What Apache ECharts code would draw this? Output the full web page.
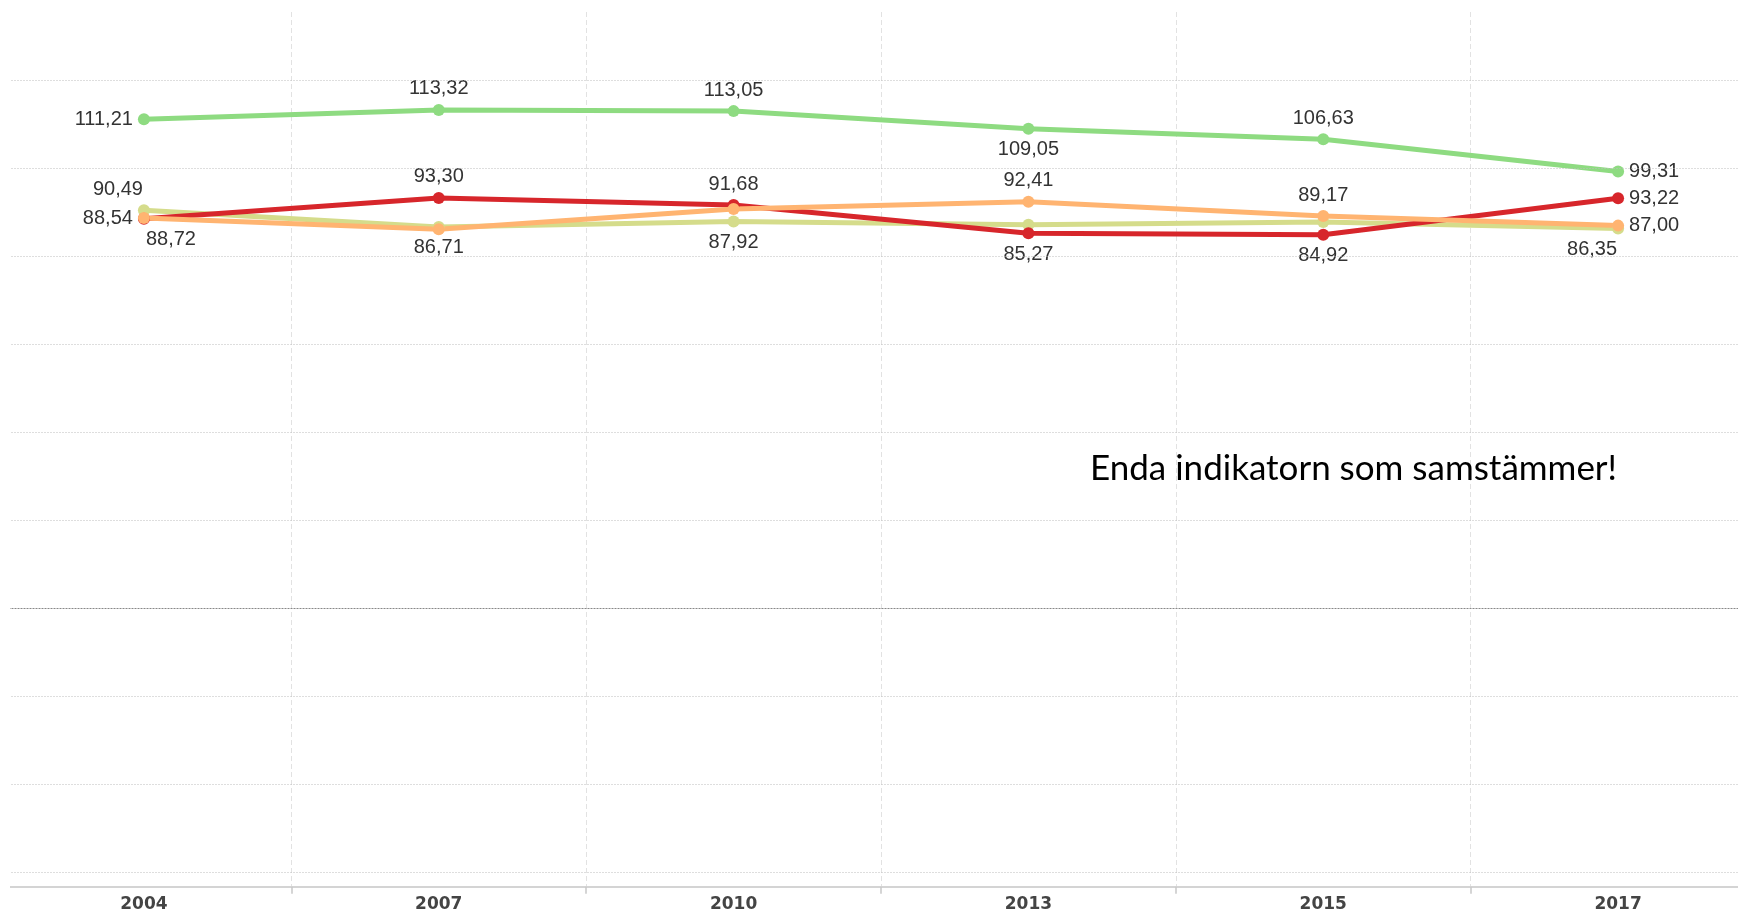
<!DOCTYPE html>
<html>
<head>
<meta charset="utf-8">
<script src="https://cdn.jsdelivr.net/npm/echarts@6/dist/echarts.min.js"></script>
<style>html,body{margin:0;padding:0;background:#fff}#c{width:1738px;height:913px}</style>
</head>
<body>
<div id="c"></div>
<script>
const years = ['2004', '2007', '2010', '2013', '2015', '2017'];
const greenValues = [111.21, 113.32, 113.05, 109.05, 106.63, 99.31];
const yellowValues = [90.49, 86.71, 87.92, 87.2, 87.8, 86.35];
const redValues = [88.54, 93.30, 91.68, 85.27, 84.92, 93.22];
const orangeValues = [88.72, 86.2, 90.8, 92.41, 89.17, 87.00];
const gridTicks = [-60, -40, -20, 0, 20, 40, 60, 80, 100, 120];
const annotation = 'Enda indikatorn som samstämmer!';

const fmt = v => v.toFixed(2).replace('.', ',');

function build(name, values, color, labels) {
  return {
    name: name,
    type: 'line',
    data: values.map((v, i) => {
      const l = labels[i];
      return {
        value: v,
        label: l ? { show: true, position: l[0], offset: l[1] || [0, 0] } : { show: false }
      };
    }),
    symbol: 'circle',
    symbolSize: 12,
    lineStyle: { width: 5, color: color },
    itemStyle: { color: color },
    label: {
      show: true,
      formatter: p => fmt(p.value),
      fontFamily: 'Liberation Sans',
      fontSize: 20,
      color: '#333'
    },
    emphasis: { disabled: true },
    animation: false
  };
}

const gridSeries = {
  type: 'line',
  data: [],
  silent: true,
  markLine: {
    silent: true,
    symbol: ['none', 'none'],
    label: { show: false },
    animation: false,
    data: gridTicks.map(t => ({
      yAxis: t,
      lineStyle: t === 0
        ? { color: '#888', width: 1.2, type: [2, 1] }
        : { color: '#bdbdbd', width: 1, type: [1, 2] }
    }))
  }
};

const chart = echarts.init(document.getElementById('c'));
chart.setOption({
  animation: false,
  backgroundColor: '#fff',
  grid: { left: -3.5, width: 1769, top: 12, bottom: 26.3, containLabel: false, outerBoundsMode: 'none' },
  xAxis: {
    type: 'category',
    data: years,
    boundaryGap: true,
    axisLine: { show: true, onZero: false, lineStyle: { color: '#d4d4d4', width: 2 } },
    axisTick: { show: true, length: 7, lineStyle: { color: '#c8c8c8', width: 1.5 } },
    axisLabel: { fontFamily: 'DejaVu Sans', fontWeight: 'bold', fontSize: 17, color: '#444', margin: 9 },
    splitLine: { show: true, lineStyle: { color: '#e2e2e2', width: 1, type: [5, 3] } }
  },
  yAxis: {
    type: 'value',
    min: -63.4,
    max: 135.6,
    axisLine: { show: false },
    axisTick: { show: false },
    axisLabel: { show: false },
    splitLine: { show: false }
  },
  series: [
    gridSeries,
    build('green', greenValues, '#8edb81', [['left'], ['top'], ['top'], ['bottom'], ['top'], ['right']]),
    build('yellow', yellowValues, '#d5dc8b', [['top', [-26, 0]], ['bottom'], ['bottom'], null, null, ['bottom', [-26, 0]]]),
    build('red', redValues, '#d7262b', [['left'], ['top'], ['top'], ['bottom'], ['bottom'], ['right']]),
    build('orange', orangeValues, '#ffb471', [['bottom', [27, 0]], null, null, ['top'], ['top'], ['right']])
  ],
  graphic: [
    { type: 'rect', left: 0, top: 0, shape: { width: 10, height: 913 }, style: { fill: '#fff' }, z: 100 },
    { type: 'text', x: 1090, y: 469, style: { text: annotation, font: '35px Lato', fill: '#000', verticalAlign: 'middle' }, z: 100 }
  ]
});
</script>
</body>
</html>
